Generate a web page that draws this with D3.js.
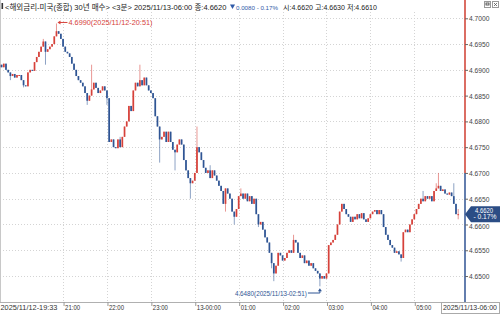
<!DOCTYPE html>
<html>
<head>
<meta charset="utf-8">
<script src="https://cdn.jsdelivr.net/npm/d3@7"></script>
<style>
body{margin:0;background:#fff}
svg{display:block;font-family:"Liberation Sans","Noto Sans CJK KR",sans-serif}
</style>
</head>
<body>
<svg id="chart" width="500" height="314"></svg>
<script>
// 3분봉, 2025/11/12 19:33 ~ 2025/11/13 06:00
var startTime = "2025-11-12 19:33", endTime = "2025-11-13 06:00";
var firstOpen = 4.6905;
var closes = [
  4.6910, 4.6905, 4.6912, 4.6900, 4.6895, 4.6888, 4.6892, 4.6885, 4.6890, 4.6890,
  4.6880, 4.6870, 4.6868, 4.6895, 4.6900, 4.6898, 4.6915, 4.6925, 4.6935, 4.6945,
  4.6955, 4.6935, 4.6940, 4.6945, 4.6950, 4.6965, 4.6975, 4.6970, 4.6960, 4.6945,
  4.6935, 4.6932, 4.6925, 4.6912, 4.6900, 4.6888, 4.6880, 4.6875, 4.6868, 4.6855,
  4.6840, 4.6850, 4.6862, 4.6875, 4.6865, 4.6855, 4.6860, 4.6868, 4.6860, 4.6845,
  4.6760, 4.6765, 4.6750, 4.6748, 4.6765, 4.6750, 4.6770, 4.6790, 4.6800, 4.6830,
  4.6820, 4.6860, 4.6875, 4.6868, 4.6880, 4.6870, 4.6885, 4.6870, 4.6860, 4.6855,
  4.6845, 4.6810, 4.6790, 4.6765, 4.6770, 4.6780, 4.6760, 4.6780, 4.6760, 4.6745,
  4.6740, 4.6755, 4.6765, 4.6755, 4.6725, 4.6705, 4.6690, 4.6680, 4.6685, 4.6700,
  4.6750, 4.6740, 4.6725, 4.6710, 4.6700, 4.6705, 4.6690, 4.6705, 4.6695, 4.6685,
  4.6675, 4.6665, 4.6640, 4.6670, 4.6660, 4.6650, 4.6625, 4.6615, 4.6630, 4.6655,
  4.6660, 4.6650, 4.6660, 4.6645, 4.6655, 4.6640, 4.6650, 4.6620, 4.6600, 4.6605,
  4.6590, 4.6575, 4.6565, 4.6545, 4.6525, 4.6505, 4.6520, 4.6545, 4.6540, 4.6530,
  4.6535, 4.6545, 4.6550, 4.6545, 4.6570, 4.6565, 4.6545, 4.6535, 4.6540, 4.6525,
  4.6530, 4.6520, 4.6525, 4.6515, 4.6510, 4.6505, 4.6495, 4.6500, 4.6495, 4.6505,
  4.6560, 4.6565, 4.6570, 4.6580, 4.6600, 4.6625, 4.6640, 4.6630, 4.6620, 4.6615,
  4.6605, 4.6615, 4.6610, 4.6620, 4.6612, 4.6622, 4.6610, 4.6605, 4.6612, 4.6620,
  4.6625, 4.6628, 4.6620, 4.6628, 4.6620, 4.6595, 4.6580, 4.6570, 4.6560, 4.6555,
  4.6545, 4.6548, 4.6542, 4.6535, 4.6585, 4.6590, 4.6585, 4.6600, 4.6610, 4.6620,
  4.6630, 4.6640, 4.6650, 4.6645, 4.6655, 4.6650, 4.6655, 4.6645, 4.6665, 4.6670,
  4.6675, 4.6665, 4.6668, 4.6660, 4.6658, 4.6662, 4.6655, 4.6640, 4.6620, 4.6620
];
// 꼬리(고가/저가)가 보이는 봉만
var highMarks = {20: 4.6960, 26: 4.6990, 42: 4.6910, 50: 4.6845, 55: 4.6770, 64: 4.6910, 90: 4.6790, 96: 4.6715,
                 110: 4.6670, 134: 4.6580, 193: 4.6665, 199: 4.6680, 200: 4.6700, 207: 4.6680, 209: 4.6630};
var lowMarks = {5: 4.6880, 11: 4.6866, 21: 4.6910, 40: 4.6832, 49: 4.6832, 73: 4.6720, 80: 4.6705, 87: 4.6650,
                103: 4.6625, 107: 4.6600, 118: 4.6595, 124: 4.6515, 125: 4.6490, 146: 4.6480, 183: 4.6528, 209: 4.6610};
var prevClose = 4.6700;
var priceTicks = [4.65, 4.655, 4.66, 4.665, 4.67, 4.675, 4.68, 4.685, 4.69, 4.695, 4.70];
var hourTimes = ["2025-11-12 21:00", "2025-11-12 22:00", "2025-11-12 23:00", "2025-11-13 00:00", "2025-11-13 01:00",
                 "2025-11-13 02:00", "2025-11-13 03:00", "2025-11-13 04:00", "2025-11-13 05:00"];
var hourLabels = ["21:00", "22:00", "23:00", "13-00:00", "01:00", "02:00", "03:00", "04:00", "05:00"];

var RED = "#d6413a", BLUE = "#2f5594";
var parse = d3.timeParse("%Y-%m-%d %H:%M");
var t0 = parse(startTime), t1 = parse(endTime);

var svg = d3.select("#chart");
var x = d3.scaleTime().domain([t0, t1]).range([-0.6, 458.2]);
var y = d3.scaleLinear().domain([4.645, 4.70]).range([301.8, 18.3]);

var bars = closes.map(function(c, i) {
  var o = i ? closes[i - 1] : firstOpen;
  var h = highMarks[i] != null ? highMarks[i] : Math.max(o, c);
  var l = lowMarks[i] != null ? lowMarks[i] : Math.min(o, c);
  return {t: d3.timeMinute.offset(t0, 3 * i), o: o, h: h, l: l, c: c, i: i};
});

function fit(sel, perChar) {
  sel.each(function() {
    d3.select(this).attr("textLength", this.textContent.length * perChar).attr("lengthAdjust", "spacingAndGlyphs");
  });
}
// 글자 크기를 줄여서 폭 맞추기
function fitFont(sel, w, size) {
  sel.attr("font-size", size);
  var len = sel.node().getComputedTextLength();
  if (len > w) sel.attr("font-size", size * w / len);
  return sel;
}

// grid
var hours = hourTimes.map(parse);
svg.append("g").selectAll("line").data(priceTicks).enter().append("line")
  .attr("x1", 0).attr("x2", 465).attr("y1", function(d) { return Math.round(y(d)) + 0.5; })
  .attr("y2", function(d) { return Math.round(y(d)) + 0.5; })
  .attr("stroke", "#d4d4d4").attr("stroke-dasharray", "1,2");
svg.append("g").selectAll("line").data(hours).enter().append("line")
  .attr("x1", function(d) { return Math.round(x(d)) + 0.5; }).attr("x2", function(d) { return Math.round(x(d)) + 0.5; })
  .attr("y1", 12).attr("y2", 302)
  .attr("stroke", "#d4d4d4").attr("stroke-dasharray", "1,2");
svg.append("line").attr("x1", 0.5).attr("x2", 0.5).attr("y1", 0).attr("y2", 302).attr("stroke", "#c8c8c8");

// candles
var cg = svg.append("g");
cg.selectAll("line.wick").data(bars).enter().append("line").attr("class", "wick")
  .attr("x1", function(d) { return x(d.t); }).attr("x2", function(d) { return x(d.t); })
  .attr("y1", function(d) { return y(d.h); }).attr("y2", function(d) { return y(d.l); })
  .attr("stroke", function(d) { return d.c >= d.o ? RED : BLUE; }).attr("stroke-opacity", 0.55).attr("stroke-width", 1);
cg.selectAll("rect").data(bars).enter().append("rect")
  .attr("x", function(d) { return x(d.t) - 0.85; }).attr("width", 1.7)
  .attr("y", function(d) { return y(Math.max(d.o, d.c)); })
  .attr("height", function(d) { return Math.max(1, Math.abs(y(d.o) - y(d.c))); })
  .attr("fill", function(d) { return d.c >= d.o ? RED : BLUE; });

// 최고/최저 표시
var hi = bars[26], lo = bars[146];
var hx = x(hi.t) + 1, hy = y(hi.h) - 1;
svg.append("line").attr("x1", hx + 2).attr("x2", hx + 10).attr("y1", hy).attr("y2", hy).attr("stroke", RED);
svg.append("path").attr("d", "M" + hx + "," + hy + "l3,-2v4z").attr("fill", RED);
svg.append("text").attr("x", hx + 11).attr("y", hy + 3).attr("font-size", 8).attr("fill", RED)
  .text(d3.format(".4f")(hi.h) + "(2025/11/12-20:51)").call(fit, 3.5);

var lx = x(lo.t), ly = y(lo.l) + 2, lty = 293;
svg.append("path").attr("d", "M" + (lx - 12) + "," + lty + "H" + lx + "V" + (ly + 2)).attr("fill", "none").attr("stroke", BLUE);
svg.append("path").attr("d", "M" + lx + "," + ly + "l-2,3h4z").attr("fill", BLUE);
svg.append("text").attr("x", lx - 13).attr("y", lty + 3).attr("text-anchor", "end").attr("font-size", 8).attr("fill", BLUE)
  .text(d3.format(".4f")(lo.l) + "(2025/11/13-02:51)").call(fit, 3.0);

// 시간축
svg.append("line").attr("x1", 0).attr("x2", 500).attr("y1", 302.5).attr("y2", 302.5).attr("stroke", "#b0b0b0");
var xa = svg.append("g").attr("transform", "translate(0,302)")
  .call(d3.axisBottom(x).tickValues(hours).tickSize(4).tickFormat(function(d, i) { return hourLabels[i]; }));
xa.select(".domain").remove();
xa.selectAll(".tick line").attr("stroke", "#999").attr("transform", "translate(0.5,0)");
xa.selectAll(".tick text").attr("text-anchor", "start").attr("x", 1.5).attr("y", 2).attr("dy", "0.71em")
  .attr("font-size", 8).attr("font-family", null).attr("fill", "#333").call(fit, 3.0);
svg.append("text").attr("x", 0.5).attr("y", 309.5).attr("fill", "#333")
  .text("2025/11/12-19:33").call(fitFont, 57, 8);
svg.append("rect").attr("x", 441.5).attr("y", 302.5).attr("width", 58).attr("height", 11).attr("fill", "#fff").attr("stroke", "#aaa");
svg.append("text").attr("x", 443).attr("y", 309.5).attr("fill", "#333")
  .text("2025/11/13-06:00").call(fitFont, 54, 8);

// 가격축
svg.append("line").attr("x1", 465).attr("x2", 465).attr("y1", 0).attr("y2", y(prevClose)).attr("stroke", "#d2493d").attr("stroke-width", 1.6);
svg.append("line").attr("x1", 465).attr("x2", 465).attr("y1", y(prevClose)).attr("y2", 302).attr("stroke", "#3d5e9a").attr("stroke-width", 1.6);
var ya = svg.append("g").attr("transform", "translate(465,0)")
  .call(d3.axisRight(y).tickValues(priceTicks).tickSize(3).tickFormat(d3.format(".4f")));
ya.select(".domain").remove();
ya.selectAll(".tick line").attr("stroke", "#666");
ya.selectAll(".tick text").attr("x", 4).attr("font-size", 8).attr("font-family", null).attr("fill", "#444").call(fit, 3.4);
// 현재가 박스 밑으로 살짝 보이는 4.6600
ya.selectAll(".tick").filter(function(d) { return d === 4.66; }).select("text").attr("dy", "0.55em");

// 현재가
var last = bars[bars.length - 1], py = y(last.c);
svg.append("path").attr("d", "M465," + py + "L471," + (py - 8) + "H500V" + (py + 8) + "H471Z").attr("fill", "#2b4d85");
svg.append("text").attr("x", 484).attr("y", py - 1.5).attr("text-anchor", "middle").attr("font-size", 7).attr("fill", "#fff")
  .text(d3.format(".4f")(last.c)).call(fit, 3.0);
svg.append("text").attr("x", 485).attr("y", py + 5.2).attr("text-anchor", "middle").attr("font-size", 7).attr("fill", "#fff")
  .text("- " + d3.format(".2f")((last.c - prevClose) / prevClose * -100) + "%").call(fit, 3.3);

// 제목줄
svg.append("rect").attr("x", 1.5).attr("y", 3).attr("width", 1.6).attr("height", 6).attr("fill", "#333");
svg.append("text").attr("x", 5).attr("y", 9.5).attr("fill", "#222")
  .text("<해외금리-미국(종합) 30년 매수> <3분> 2025/11/13-06:00 종:4.6620").call(fitFont, 222, 8.5);
svg.append("path").attr("d", "M230,4.5h5l-2.5,4.5z").attr("fill", "#2f5aa8");
svg.append("text").attr("x", 236).attr("y", 9.5).attr("fill", "#2f5aa8")
  .text("0.0080 - 0.17%").call(fitFont, 42, 8.5);
svg.append("text").attr("x", 283).attr("y", 9.5).attr("fill", "#222")
  .text("시:4.6620 고:4.6630 저:4.6610").call(fitFont, 94, 8.5);

// 창 버튼
svg.append("rect").attr("x", 484.5).attr("y", 1.5).attr("width", 6).attr("height", 6).attr("fill", "#fff").attr("stroke", "#999");
svg.append("rect").attr("x", 486).attr("y", 3).attr("width", 3).attr("height", 2).attr("fill", "none").attr("stroke", "#333").attr("stroke-width", 0.8);
svg.append("rect").attr("x", 492.5).attr("y", 1.5).attr("width", 6).attr("height", 6).attr("fill", "#fff").attr("stroke", "#999");
svg.append("path").attr("d", "M494,3L497,6M497,3L494,6").attr("stroke", "#555").attr("stroke-width", 0.8);
</script>
</body>
</html>
